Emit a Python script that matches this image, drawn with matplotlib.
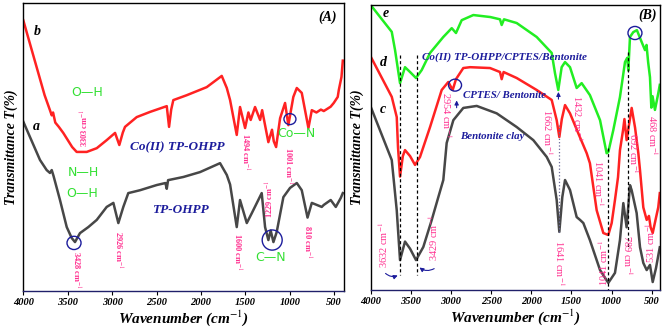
import matplotlib
matplotlib.use('Agg')
import matplotlib.pyplot as plt
from matplotlib.patches import Ellipse

plt.rcParams['mathtext.fontset'] = 'stix'

# ---- data (wavenumber cm-1, transmittance in arbitrary %) ----
# panel A, curve b: Co(II) TP-OHPP
a_b_wn = [4000, 3905, 3760, 3700, 3680, 3665, 3640, 3600, 3550, 3450, 3399, 3286, 3173, 3061,
          2967, 2919, 2880, 2855, 2723, 2573, 2385, 2359, 2335, 2311, 2160, 1935, 1766, 1709,
          1672, 1597, 1560, 1503, 1466, 1440, 1391, 1334, 1311, 1241, 1200, 1180, 1154, 1109,
          1053, 1016, 960, 921, 865, 790, 752, 700, 650, 617, 540, 505, 460, 448, 418, 403]
a_b_T = [94, 83.7, 68, 62.8, 61, 62, 58.5, 57, 54.9, 50, 48.3, 48.3, 49.6, 52.4,
         54.9, 50.7, 55, 57, 60.4, 62.2, 64.2, 57, 63, 66.3, 68, 70.8, 74.7, 70.5,
         66.3, 54.2, 63.9, 56.6, 62, 59.4, 63.9, 59.4, 62.8, 51.7, 56, 52, 50, 60,
         65.3, 57.6, 67.4, 70.5, 68.8, 56.6, 62.8, 62, 63, 62.5, 64, 65.3, 67.4, 69.8, 74.3, 80]

# panel A, curve a: TP-OHPP
a_a_wn = [4000, 3812, 3737, 3700, 3680, 3660, 3587, 3511, 3455, 3418, 3362, 3268, 3173, 3061,
          2986, 2930, 2874, 2818, 2686, 2498, 2400, 2385, 2370, 2198, 2010, 1785, 1709, 1672,
          1597, 1560, 1484, 1428, 1316, 1278, 1241, 1215, 1184, 1147, 1072, 997, 921, 865,
          800, 752, 640, 617, 539, 482, 426, 403]
a_a_T = [58.8, 45.5, 42, 41, 42, 40, 31.6, 22.2, 18.4, 17, 20.1, 22.2, 24.7, 29.2,
         30.6, 23.6, 29.2, 34, 35, 36.8, 37.5, 35.5, 38.5, 39.6, 41.3, 44.4, 40.3, 37,
         22.2, 31.6, 23.6, 27, 34, 22.2, 17.7, 21, 17, 20.5, 32.6, 35.8, 37.5, 35,
         25.5, 30.6, 29.2, 29.9, 31.6, 29.2, 32.3, 34]

# panel B, curve e: Co(II) TP-OHPP/CPTES/Bentonite
b_e_wn = [4000, 3738, 3697, 3635, 3573, 3510, 3436, 3365, 3261, 3096, 2991, 2938, 2867, 2722,
          2510, 2390, 2369, 2340, 2182, 1933, 1746, 1705, 1664, 1622, 1580, 1518, 1435, 1373,
          1270, 1144, 1062, 1041, 979, 896, 833, 805, 792, 771, 730, 685, 625, 584, 565,
          545, 522, 505, 490, 460, 419, 400]
b_e_T = [100, 90.6, 84.2, 72.6, 78.2, 76.5, 74.4, 77.2, 83.2, 88.8, 91.9, 90.2, 94.7, 96.5,
         95.8, 95, 93, 95, 93.7, 88.8, 83.2, 76.1, 70.2, 78.2, 80, 78.2, 70.9, 72.6,
         68.4, 59.6, 48, 48.4, 56.1, 67.7, 80, 81.5, 77, 88.8, 90.5, 91.2, 87, 84.2, 86,
         80, 74.7, 64, 68, 63.2, 69, 72]

# panel B, curve d: CPTES/Bentonite
b_d_wn = [4000, 3738, 3676, 3660, 3635, 3600, 3573, 3510, 3448, 3386, 3261, 3116, 3034, 2979,
          2938, 2847, 2763, 2514, 2390, 2369, 2345, 2182, 1933, 1746, 1684, 1651, 1620, 1580,
          1518, 1415, 1310, 1270, 1186, 1103, 1041, 999, 958, 920, 896, 858, 840, 813, 750,
          708, 667, 646, 605, 563, 535, 514, 488, 450, 419, 400]
b_d_T = [81.9, 67.8, 60.7, 50, 39.8, 47, 49.1, 47, 43.9, 46.7, 57.2, 70.2, 73, 70.2,
         74, 77.9, 78.2, 77.9, 76.5, 74, 76.5, 74.4, 70.2, 66.7, 59.6, 53.7, 60, 64.9,
         62, 55, 48, 44.5, 28, 20, 19.3, 23.5, 31.6, 39.6, 49, 56, 60, 52.6, 63.9,
         57, 48, 42, 29, 24.6, 26, 22, 20, 25, 29, 34]

# panel B, curve c: Bentonite clay
b_c_wn = [4000, 3738, 3676, 3635, 3573, 3510, 3436, 3345, 3240, 3158, 3096, 3054, 2971, 2847,
          2680, 2431, 2182, 1975, 1808, 1746, 1684, 1651, 1614, 1580, 1518, 1435, 1393, 1352,
          1270, 1144, 1041, 958, 896, 854, 813, 771, 750, 688, 646, 605, 563, 522, 488,
          447, 400]
b_c_T = [64.3, 45.6, 28, 10.5, 17, 14.5, 10.5, 15.1, 24.6, 32.6, 38.6, 51.6, 59.6, 63.9,
         64.6, 62, 57.2, 52.6, 46.7, 43.2, 31.6, 20.4, 32.6, 38.6, 35.1, 25.6, 24.6, 23.5,
         17.5, 7, 2.5, 6, 17.5, 30.5, 22, 36.8, 35, 27, 15, 9.5, 7, 8.8, 2.8,
         7.7, 15]

tick_vals = [4000, 3500, 3000, 2500, 2000, 1500, 1000, 500]

red = '#ff2222'
grey = '#474747'
green = '#22ee22'
pink = '#ff2f8f'
navy = '#1c1c9c'
lab_green = '#33e033'

serif = 'Liberation Serif'

fig = plt.figure(figsize=(6.62, 3.36), dpi=100)
axA = fig.add_axes([0.0352, 0.1339, 0.4845, 0.857])
axB = fig.add_axes([0.56, 0.1369, 0.437, 0.848])


def style_axis(ax, right_lim, ypad):
    ax.set_xlim(4000, right_lim)
    ax.set_ylim(0, 100)
    ax.set_yticks([])
    ax.set_xticks(tick_vals)
    ax.set_xticklabels([str(t) for t in tick_vals], fontfamily=serif,
                       fontweight='bold', fontstyle='italic', fontsize=7.5)
    ax.tick_params(axis='x', direction='out', length=3, width=0.8, pad=2)
    for s in ax.spines.values():
        s.set_linewidth(1.0)
    ax.spines['bottom'].set_color('#20206a')
    ax.set_xlabel('Wavenumber (cm$^{-1}$)', fontfamily=serif, fontweight='bold',
                  fontstyle='italic', fontsize=11, labelpad=1)
    ax.set_ylabel('Transmittance T(%)', fontfamily=serif, fontweight='bold',
                  fontstyle='italic', fontsize=10, labelpad=ypad)


def peak(ax, x, y, txt, rot=270, fs=6, weight='bold'):
    ax.text(x, y, txt, rotation=rot, color=pink, fontsize=fs, fontfamily=serif,
            fontweight=weight, ha='center', va='center')


def circ(ax, x, y, w, h):
    ax.add_patch(Ellipse((x, y), w, h, fill=False, edgecolor=navy, lw=1.0, zorder=5))


def name(ax, x, y, txt, fs=9, ha='center'):
    ax.text(x, y, txt, color=navy, fontsize=fs, fontfamily=serif, fontweight='bold',
            fontstyle='italic', ha=ha, va='center')


def bond(ax, x, y, txt):
    ax.text(x, y, txt, color=lab_green, fontsize=9, fontfamily='DejaVu Sans',
            ha='center', va='center')


def letter(ax, x, y, txt):
    ax.text(x, y, txt, fontsize=10, fontfamily=serif, fontweight='bold',
            fontstyle='italic', ha='center', va='center')


# ---------------- panel A ----------------
style_axis(axA, 389, 4)
axA.plot(a_b_wn, a_b_T, color=red, lw=1.8)
axA.plot(a_a_wn, a_a_T, color=grey, lw=1.8)

letter(axA, 3846, 90, 'b')
letter(axA, 3857, 57.3, 'a')
letter(axA, 570, 95, '(A)')
bond(axA, 3282, 68.8, 'O—H')
bond(axA, 3327, 41, 'N—H')
bond(axA, 3338, 34, 'O—H')
bond(axA, 928, 54.8, 'Co—N')
bond(axA, 1221, 11.5, 'C—N')
name(axA, 2270, 50, 'Co(II) TP-OHPP', fs=9.5)
name(axA, 2235, 28.1, 'TP-OHPP', fs=9.5)
peak(axA, 3304, 56.6, '3303 cm$^{-1}$', rot=90)
peak(axA, 1504, 48.3, '1494 cm$^{-1}$')
peak(axA, 1020, 43.5, '1001 cm$^{-1}$')
peak(axA, 3407, 7.3, '3428 cm$^{-1}$')
peak(axA, 2933, 14.2, '2926 cm$^{-1}$')
peak(axA, 1595, 13.5, '1600 cm$^{-1}$')
peak(axA, 1221, 32, '1229 cm$^{-1}$', rot=90)
peak(axA, 806, 17, '810 cm$^{-1}$')
circ(axA, 998, 59.7, 135, 3.8)
circ(axA, 3429, 16.7, 158, 4.6)
circ(axA, 1198, 17.7, 225, 7)

# ---------------- panel B ----------------
style_axis(axB, 397, 5)
axB.plot(b_e_wn, b_e_T, color=green, lw=1.8)
axB.plot(b_d_wn, b_d_T, color=red, lw=1.8)
axB.plot(b_c_wn, b_c_T, color=grey, lw=1.8)

# dashed guides
for x, y0, y1 in [(3632, 82.5, 5.3), (3429, 82.5, 5.3), (1041, 50, 0), (792, 83.5, 15)]:
    axB.plot([x, x], [y0, y1], color='black', ls='--', lw=0.9, dashes=(2.5, 2))
axB.plot([1651, 1651], [58, 20], color='#6a6a9a', ls=':', lw=0.9)

letter(axB, 3809, 97.2, 'e')
letter(axB, 3847, 80, 'd')
letter(axB, 3847, 63.2, 'c')
letter(axB, 556, 96.5, '(B)')
name(axB, 2330, 81.8, 'Co(II) TP-OHPP/CPTES/Bentonite', fs=8)
name(axB, 2851, 68.4, 'CPTES/ Bentonite', fs=7.8, ha='left')
name(axB, 2885, 53.7, 'Bentonite clay', fs=7.8, ha='left')
peak(axB, 3050, 61.5, '2954 cm$^{-1}$', fs=7.5, weight='normal')
peak(axB, 1800, 55.4, '1662 cm$^{-1}$', fs=7.5, weight='normal')
peak(axB, 1418, 60.4, '1432 cm$^{-1}$', fs=7.5, weight='normal')
peak(axB, 1156, 37.5, '1041 cm$^{-1}$', fs=7.5, weight='normal')
peak(axB, 720, 48, '692 cm$^{-1}$', fs=7.5, weight='normal')
peak(axB, 485, 54.4, '468 cm$^{-1}$', fs=7.5, weight='normal')
peak(axB, 3848, 15.8, '3632 cm$^{-1}$', rot=90, fs=7.5, weight='normal')
peak(axB, 3224, 18.2, '3429 cm$^{-1}$', rot=90, fs=7.5, weight='normal')
peak(axB, 1643, 9.5, '1641 cm$^{-1}$', fs=7.5, weight='normal')
peak(axB, 1107, 9.5, '1041 cm$^{-1}$', rot=90, fs=7.5, weight='normal')
peak(axB, 796, 12.3, '789 cm$^{-1}$', fs=7.5, weight='normal')
peak(axB, 522, 16.5, '531 cm$^{-1}$', rot=90, fs=7.5, weight='normal')
circ(axB, 2950, 71.9, 162, 4.2)
circ(axB, 709, 90.2, 174, 4.6)

# small blue arrows
arr = dict(arrowstyle='-|>', color=navy, lw=0.8, mutation_scale=6)
axB.annotate('', xy=(2930, 67.5), xytext=(2930, 63), arrowprops=arr)
axB.annotate('', xy=(1662, 70.5), xytext=(1662, 66), arrowprops=arr)
axB.annotate('', xy=(3632, 5.5), xytext=(3840, 6.5),
             arrowprops=dict(arr, connectionstyle='arc3,rad=0.4'))
axB.annotate('', xy=(3420, 8.5), xytext=(3180, 8),
             arrowprops=dict(arr, connectionstyle='arc3,rad=-0.4'))

fig.savefig('out.png', dpi=100)
